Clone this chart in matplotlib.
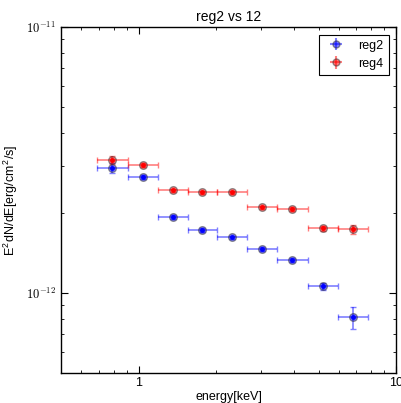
import matplotlib
matplotlib.use('Agg')
import matplotlib.pyplot as plt
import numpy as np
from matplotlib.ticker import FixedLocator, FixedFormatter, FuncFormatter, NullFormatter

plt.rcParams['mathtext.fontset'] = 'cm'
plt.rcParams['font.family'] = ['Liberation Sans', 'DejaVu Sans']

# energy bin edges [keV]
e_lo = [0.69, 0.91, 1.19, 1.55, 2.02, 2.64, 3.46, 4.53, 5.95]
e_hi = [0.91, 1.19, 1.55, 2.02, 2.64, 3.46, 4.53, 5.95, 7.78]

# E^2 dN/dE [1e-12 erg/cm2/s]
reg2 = [2.95, 2.73, 1.93, 1.73, 1.62, 1.47, 1.33, 1.06, 0.81]
reg2_err = [0.13, 0.04, 0.03, 0.03, 0.025, 0.025, 0.025, 0.035, 0.075]
reg4 = [3.17, 3.02, 2.43, 2.39, 2.39, 2.10, 2.07, 1.75, 1.74]
reg4_err = [0.11, 0.05, 0.03, 0.03, 0.03, 0.03, 0.03, 0.04, 0.07]

e_lo = np.array(e_lo)
e_hi = np.array(e_hi)
energy = np.sqrt(e_lo * e_hi)
xerr = [energy - e_lo, e_hi - energy]

fig = plt.figure(figsize=(4.01, 4.03), dpi=100)
ax = fig.add_axes([0.152, 0.074, 0.836, 0.859])

for vals, errs, col in [(reg2, reg2_err, 'blue'), (reg4, reg4_err, 'red')]:
    y = np.array(vals) * 1e-12
    ye = np.array(errs) * 1e-12
    ax.errorbar(energy, y, xerr=xerr, yerr=ye, fmt='o', color=col, ecolor=col,
                elinewidth=1.2, capsize=2.5, capthick=1.0, alpha=0.5,
                markersize=5.5, markeredgecolor='#333333', markerfacecolor=col)
    ax.plot(energy, y, 'o', color=col, markersize=3.5, markeredgewidth=0)

ax.set_xscale('log')
ax.set_yscale('log')
ax.set_xlim(0.5, 10)
ax.set_ylim(5e-13, 1e-11)

ax.xaxis.set_major_locator(FixedLocator([1, 10]))
ax.xaxis.set_major_formatter(FixedFormatter(['1', '10']))
ax.xaxis.set_minor_formatter(NullFormatter())
ax.yaxis.set_major_formatter(FuncFormatter(lambda v, p: r'$10^{%d}$' % round(np.log10(v))))
ax.yaxis.set_minor_formatter(NullFormatter())

ax.tick_params(which='both', direction='in', top=True, right=True, labelsize=9)
ax.tick_params(axis='x', pad=3)
ax.tick_params(which='major', length=5)
ax.tick_params(which='minor', length=2.5)
for s in ax.spines.values():
    s.set_linewidth(1.0)

h1 = ax.errorbar([], [], xerr=[], yerr=[], fmt='o', color='blue', alpha=0.5, capsize=2.5,
                 markersize=5, markeredgecolor='#333333')
h2 = ax.errorbar([], [], xerr=[], yerr=[], fmt='o', color='red', alpha=0.5, capsize=2.5,
                 markersize=5, markeredgecolor='#333333')
leg = ax.legend([h1, h2], ['reg2', 'reg4'], loc='upper right', fontsize=9,
                fancybox=False, edgecolor='black', framealpha=1, handlelength=2,
                borderaxespad=0.6)
leg.get_frame().set_linewidth(0.8)

ax.set_title('reg2 vs 12', fontsize=10, pad=4)
ax.set_xlabel('energy[keV]', fontsize=9, labelpad=1)
ax.set_ylabel(r'E$^\mathregular{2}$dN/dE[erg/cm$^\mathregular{2}$/s]', fontsize=9)

fig.savefig('out.png', dpi=100)
